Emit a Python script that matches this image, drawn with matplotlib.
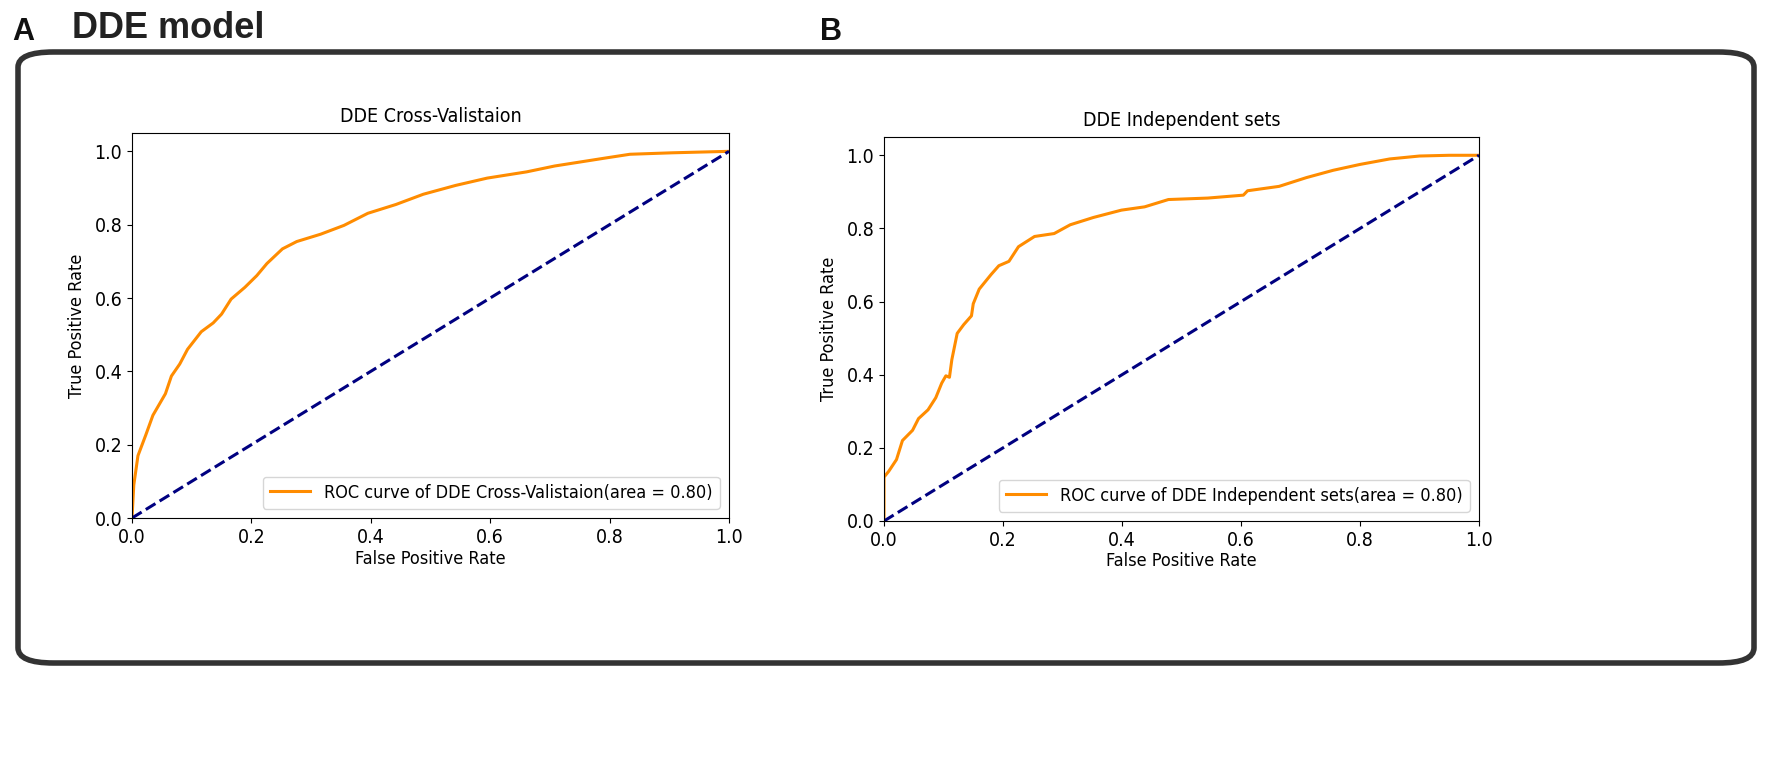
import matplotlib
matplotlib.use("Agg")
import matplotlib.pyplot as plt
from matplotlib.patches import FancyBboxPatch

# ROC curve of the cross-validation run
cv_fpr = [0.0, 0.003, 0.01, 0.023, 0.035, 0.056, 0.066, 0.08, 0.093, 0.116, 0.136,
          0.15, 0.166, 0.189, 0.209, 0.226, 0.252, 0.276, 0.316, 0.355, 0.395,
          0.442, 0.488, 0.542, 0.595, 0.661, 0.708, 0.794, 0.834, 0.905, 1.0]
cv_tpr = [0.0, 0.09, 0.17, 0.226, 0.28, 0.339, 0.387, 0.42, 0.46, 0.508, 0.532,
          0.556, 0.597, 0.629, 0.661, 0.694, 0.734, 0.754, 0.774, 0.798, 0.831,
          0.855, 0.883, 0.907, 0.927, 0.944, 0.96, 0.982, 0.992, 0.996, 1.0]

# ROC curve of the independent sets
ind_fpr = [0.0, 0.0, 0.008, 0.021, 0.031, 0.048, 0.058, 0.074, 0.087, 0.097, 0.104,
           0.11, 0.114, 0.123, 0.134, 0.147, 0.15, 0.16, 0.18, 0.193, 0.21, 0.226,
           0.253, 0.286, 0.313, 0.352, 0.399, 0.438, 0.478, 0.544, 0.604, 0.611,
           0.664, 0.71, 0.755, 0.8, 0.85, 0.9, 0.95, 1.0]
ind_tpr = [0.0, 0.12, 0.136, 0.168, 0.22, 0.248, 0.28, 0.304, 0.337, 0.377, 0.397,
           0.393, 0.441, 0.513, 0.537, 0.561, 0.594, 0.634, 0.674, 0.698, 0.71, 0.75,
           0.778, 0.786, 0.81, 0.83, 0.85, 0.859, 0.879, 0.883, 0.891, 0.903,
           0.915, 0.939, 0.959, 0.975, 0.99, 0.998, 1.0, 1.0]

panels = [
    ("DDE Cross-Valistaion", cv_fpr, cv_tpr, 0.80),
    ("DDE Independent sets", ind_fpr, ind_tpr, 0.80),
]

plt.rcParams['font.family'] = ['DejaVu Sans']
plt.rcParams['font.stretch'] = 'condensed'

W, H = 1772, 760
fig = plt.figure(figsize=(W / 100, H / 100), dpi=100)

# axes boxes in pixel coords: left, right, top, bottom
boxes = [(132, 729, 133, 518), (884, 1479, 137, 521)]

for (name, fpr, tpr, auc), (l, r, t, b) in zip(panels, boxes):
    ax = fig.add_axes([l / W, 1 - b / H, (r - l) / W, (b - t) / H])
    ax.plot(fpr, tpr, color='darkorange', lw=2.2,
            label=f'ROC curve of {name}(area = {auc:.2f})')
    ax.plot([0, 1], [0, 1], color='navy', lw=2.2, linestyle='--')
    ax.set_xlim(0.0, 1.0)
    ax.set_ylim(0.0, 1.05)
    ax.set_xlabel('False Positive Rate', fontsize=13, labelpad=2)
    ax.set_ylabel('True Positive Rate', fontsize=13, labelpad=6)
    ax.set_title(name, fontsize=14, pad=8)
    ax.tick_params(labelsize=14)
    ax.legend(loc='lower right', fontsize=13, handlelength=2.2)

# rounded frame round the panels
frame = FancyBboxPatch((18 / W, 1 - 663 / H), (1754 - 18) / W, (663 - 52) / H,
                       boxstyle="round,pad=0,rounding_size=0.02",
                       transform=fig.transFigure, fill=False,
                       edgecolor='#333333', lw=4)
fig.patches.append(frame)

fig.text(12 / W, 1 - 40 / H, 'A', fontsize=22, fontweight='bold',
         family='Liberation Sans', stretch='normal', color='#111111')
fig.text(72 / W, 1 - 38 / H, 'DDE model', fontsize=26, fontweight='bold',
         family='Liberation Sans', stretch='normal', color='#222222')
fig.text(820 / W, 1 - 40 / H, 'B', fontsize=22, fontweight='bold',
         family='Liberation Sans', stretch='normal', color='#111111')

fig.savefig('out.png', dpi=100)
